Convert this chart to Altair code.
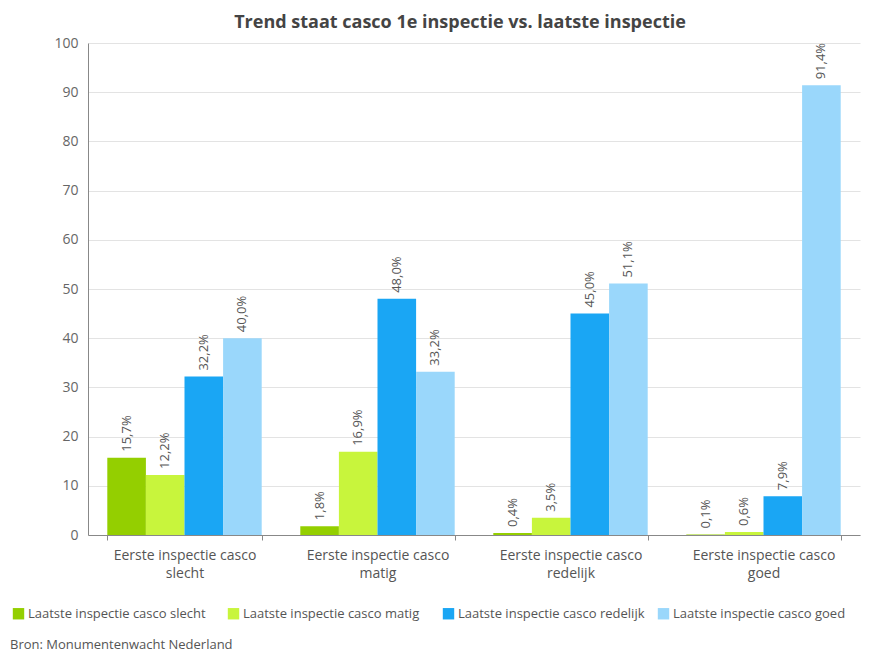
import altair as alt
import pandas as pd

categories = [
    "Eerste inspectie casco slecht",
    "Eerste inspectie casco matig",
    "Eerste inspectie casco redelijk",
    "Eerste inspectie casco goed",
]
series = [
    "Laatste inspectie casco slecht",
    "Laatste inspectie casco matig",
    "Laatste inspectie casco redelijk",
    "Laatste inspectie casco goed",
]
values_slecht = [15.7, 1.8, 0.4, 0.1]
values_matig = [12.2, 16.9, 3.5, 0.6]
values_redelijk = [32.2, 48.0, 45.0, 7.9]
values_goed = [40.0, 33.2, 51.1, 91.4]
colors = ["#94cf00", "#c8f53c", "#1aa6f4", "#9ad7fb"]
y_ticks = [0, 10, 20, 30, 40, 50, 60, 70, 80, 90, 100]

rows = []
for s, vals in zip(series, [values_slecht, values_matig, values_redelijk, values_goed]):
    for c, v in zip(categories, vals):
        rows.append({"cat": c, "serie": s, "value": v,
                     "label": f"{v:.1f}%".replace(".", ",")})
df = pd.DataFrame(rows)

FONT = "Open Sans, sans-serif"

x = alt.X("cat:N", sort=categories, title=None,
          scale=alt.Scale(paddingInner=0.2, paddingOuter=0.1),
          axis=alt.Axis(labelAngle=0, labelPadding=8, labelFontSize=14,
                        labelColor="#555555", labelFont=FONT, labelLineHeight=18,
                        labelExpr="datum.label ? ['Eerste inspectie casco', slice(datum.label, 23)] : ''",
                        domainColor="#888888", tickColor="#888888", tickBand="extent",
                        tickSize=5, labelBaseline="top"))
xo = alt.XOffset("serie:N", sort=series, scale=alt.Scale(paddingInner=0, paddingOuter=0))

base = alt.Chart(df)
bars = base.mark_bar().encode(
    x=x, xOffset=xo,
    y=alt.Y("value:Q", title=None,
            scale=alt.Scale(domain=[0, 100], nice=False),
            axis=alt.Axis(values=y_ticks, labelFontSize=14, labelColor="#666666",
                          labelFont=FONT, ticks=False, labelPadding=10,
                          domainColor="#888888", gridColor="#e3e3e3")),
    color=alt.Color("serie:N", sort=series,
                    scale=alt.Scale(domain=series, range=colors),
                    legend=alt.Legend(title=None, orient="none", direction="horizontal",
                                      legendX=-76, legendY=564, symbolType="square",
                                      symbolSize=130, symbolStrokeWidth=0,
                                      symbolOpacity=1, labelFontSize=13,
                                      labelFont=FONT, labelColor="#555555",
                                      labelLimit=0, columnPadding=12, labelOffset=3,
                                      gridAlign="all")),
)
labels = base.mark_text(angle=270, align="left", baseline="middle", dx=6,
                        fontSize=13, font=FONT, color="#555555").encode(
    x=x, xOffset=xo, y="value:Q", text="label:N")

source = alt.Chart(pd.DataFrame({"t": ["Bron: Monumentenwacht Nederland"]})).mark_text(
    align="left", baseline="middle", fontSize=13, font=FONT, color="#555555"
).encode(text="t:N", x=alt.value(-78), y=alt.value(602))

chart = alt.layer(bars, labels, source).properties(
    width=772, height=492,
    autosize=alt.AutoSizeParams(type="none"),
    padding={"left": 80, "top": 35, "right": 4, "bottom": 118},
    title=alt.Title("Trend staat casco 1e inspectie vs. laatste inspectie",
                    fontSize=18, font=FONT, fontWeight="bold", color="#444444",
                    anchor="middle", dx=-14, offset=4),
).configure_view(stroke=None)

chart.save("out.html", embed_options={"renderer": "svg", "actions": False})
